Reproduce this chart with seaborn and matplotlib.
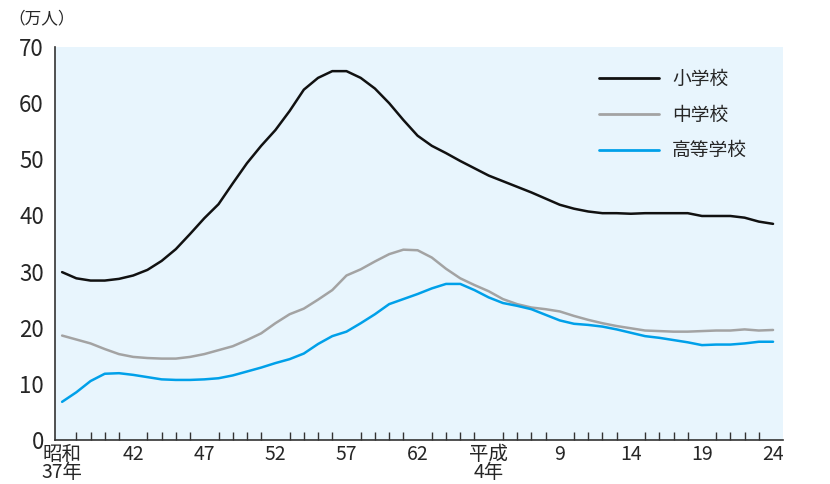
import pandas as pd
import matplotlib
matplotlib.use("Agg")
import matplotlib.pyplot as plt
import seaborn as sns
from matplotlib.ticker import MultipleLocator

# 昭和37年(1962) ～ 平成24年(2012)
years = list(range(1962, 2013))

elementary = [29.9, 28.8, 28.4, 28.4, 28.7, 29.3, 30.3, 31.9, 34.0, 36.7,
              39.5, 42.0, 45.7, 49.3, 52.4, 55.2, 58.6, 62.4, 64.5, 65.7,
              65.7, 64.5, 62.6, 60.0, 57.0, 54.2, 52.4, 51.1, 49.7, 48.4,
              47.1, 46.1, 45.1, 44.1, 43.0, 41.9, 41.2, 40.7, 40.4, 40.4,
              40.3, 40.4, 40.4, 40.4, 40.4, 39.9, 39.9, 39.9, 39.6, 38.9, 38.5]
junior_high = [18.6, 17.9, 17.2, 16.2, 15.3, 14.8, 14.6, 14.5, 14.5, 14.8,
               15.3, 16.0, 16.7, 17.8, 19.0, 20.8, 22.4, 23.4, 25.0, 26.7,
               29.3, 30.4, 31.8, 33.1, 33.9, 33.8, 32.5, 30.5, 28.8, 27.6,
               26.5, 25.1, 24.2, 23.6, 23.3, 22.9, 22.1, 21.4, 20.8, 20.3,
               19.9, 19.5, 19.4, 19.3, 19.3, 19.4, 19.5, 19.5, 19.7, 19.5, 19.6]
high_school = [6.8, 8.5, 10.5, 11.8, 11.9, 11.6, 11.2, 10.8, 10.7, 10.7,
               10.8, 11.0, 11.5, 12.2, 12.9, 13.7, 14.4, 15.4, 17.1, 18.5,
               19.3, 20.8, 22.4, 24.2, 25.1, 26.0, 27.0, 27.8, 27.8, 26.7,
               25.4, 24.4, 23.9, 23.3, 22.3, 21.3, 20.7, 20.5, 20.2, 19.7,
               19.1, 18.5, 18.2, 17.8, 17.4, 16.9, 17.0, 17.0, 17.2, 17.5, 17.5]

series_names = ["小学校", "中学校", "高等学校"]
colors = ["#111111", "#a3a3a3", "#00a0e9"]

tick_years = [1962, 1967, 1972, 1977, 1982, 1987, 1992, 1997, 2002, 2007, 2012]
tick_labels = ["昭和\n37年", "42", "47", "52", "57", "62", "平成\n4年",
               "9", "14", "19", "24"]

df = pd.DataFrame({
    "year": years * 3,
    "value": elementary + junior_high + high_school,
    "school": [series_names[0]] * len(years) + [series_names[1]] * len(years)
              + [series_names[2]] * len(years),
})

sns.set_style("white")
plt.rcParams["font.family"] = ["Noto Sans CJK JP", "DejaVu Sans"]

fig = plt.figure(figsize=(8.3, 4.84), dpi=100)
ax = fig.add_axes([55 / 830, 1 - 440 / 484, 728 / 830, 393 / 484])
ax.set_facecolor("#e8f5fd")

sns.lineplot(data=df, x="year", y="value", hue="school", hue_order=series_names,
             palette=colors, linewidth=1.8, ax=ax)

ax.set_xlim(1961.5, 2012.7)
ax.set_ylim(0, 70)
ax.set_xlabel("")
ax.set_ylabel("")

ax.set_xticks(tick_years)
ax.set_xticklabels(tick_labels, fontsize=14, linespacing=0.78)
ax.xaxis.set_minor_locator(MultipleLocator(1))
ax.tick_params(axis="x", which="major", direction="in", length=10, width=1,
               color="#333333", pad=3)
ax.tick_params(axis="x", which="minor", direction="in", length=6, width=1,
               color="#333333", bottom=True)

ax.yaxis.set_major_locator(MultipleLocator(10))
ax.tick_params(axis="y", direction="out", length=5, width=1, color="#333333",
               labelsize=16, pad=3)

for side in ["top", "right"]:
    ax.spines[side].set_visible(False)
for side in ["left", "bottom"]:
    ax.spines[side].set_color("#333333")
    ax.spines[side].set_linewidth(1.2)

fig.text(8 / 830, 1 - 19 / 484, "（万人）", fontsize=12, va="center", ha="left")

leg = ax.legend(loc="upper left", bbox_to_anchor=((582 - 55) / 728, (440 - 52) / 393),
                frameon=False, fontsize=13.5, handlelength=3.2, handletextpad=0.7,
                labelspacing=0.78)
for line in leg.get_lines():
    line.set_linewidth(2)

fig.savefig("out.png", dpi=100)
